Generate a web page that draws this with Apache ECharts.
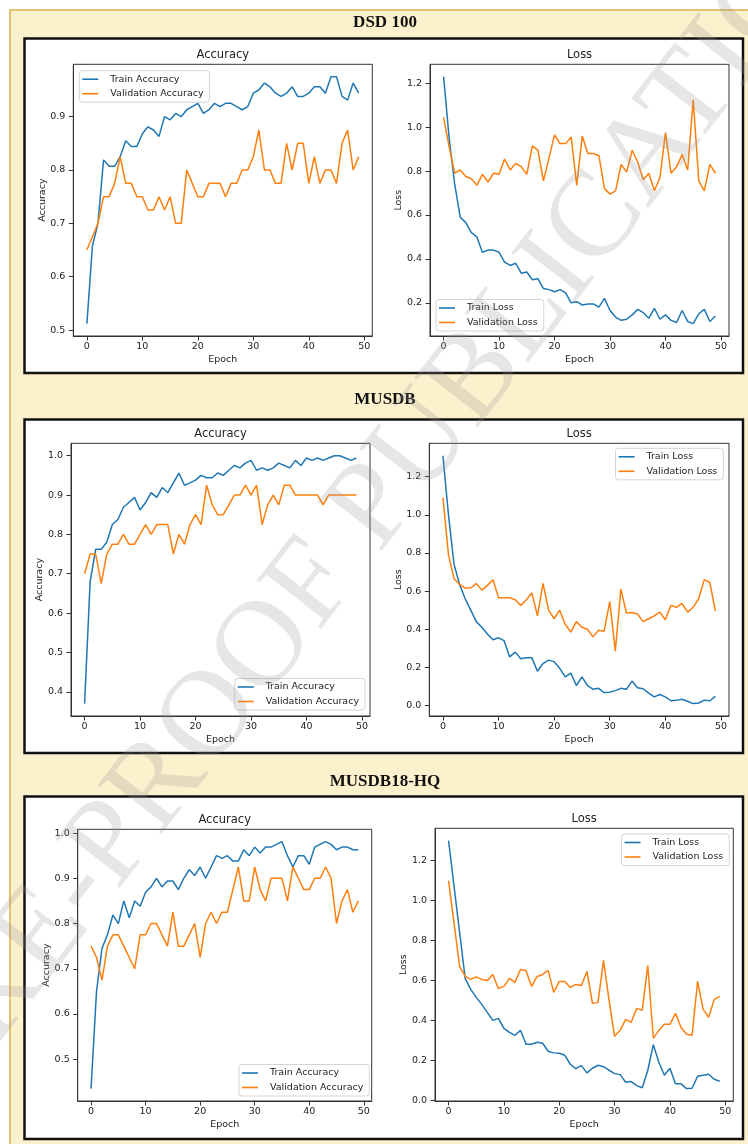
<!DOCTYPE html>
<html>
<head>
<meta charset="utf-8">
<script src="https://cdn.jsdelivr.net/npm/echarts@6/dist/echarts.min.js"></script>
<style>
  html, body { margin: 0; padding: 0; background: #ffffff; }
  #main { width: 748px; height: 1144px; }
</style>
</head>
<body>
<div id="main"></div>
<script>
// ---- training histories (50 epochs each) ----
const dsdTrainAcc = [0.512,0.658,0.700,0.819,0.807,0.807,0.825,0.855,0.844,0.844,
  0.868,0.881,0.875,0.863,0.900,0.894,0.906,0.900,0.913,0.919,
  0.925,0.906,0.913,0.925,0.919,0.925,0.925,0.919,0.913,0.919,
  0.944,0.950,0.963,0.956,0.944,0.938,0.944,0.956,0.938,0.938,
  0.944,0.956,0.956,0.944,0.975,0.975,0.938,0.931,0.963,0.944];
const dsdValAcc = [0.650,0.675,0.700,0.750,0.750,0.775,0.825,0.775,0.775,0.750,
  0.750,0.725,0.725,0.750,0.725,0.750,0.700,0.700,0.800,0.775,
  0.750,0.750,0.775,0.775,0.775,0.750,0.775,0.775,0.800,0.800,
  0.825,0.875,0.800,0.800,0.775,0.775,0.850,0.800,0.850,0.850,
  0.775,0.825,0.775,0.800,0.800,0.775,0.850,0.875,0.800,0.825];
const dsdTrainLoss = [1.23,0.95,0.74,0.59,0.565,0.52,0.50,0.43,0.44,0.44,
  0.43,0.385,0.37,0.38,0.335,0.34,0.305,0.31,0.265,0.26,
  0.25,0.26,0.245,0.20,0.205,0.19,0.195,0.195,0.18,0.22,
  0.165,0.135,0.12,0.125,0.145,0.17,0.155,0.13,0.175,0.125,
  0.145,0.12,0.11,0.165,0.115,0.105,0.15,0.17,0.115,0.14];
const dsdValLoss = [1.045,0.91,0.79,0.805,0.775,0.765,0.735,0.785,0.75,0.79,
  0.785,0.855,0.805,0.835,0.82,0.785,0.915,0.895,0.755,0.86,
  0.965,0.925,0.925,0.955,0.735,0.96,0.88,0.88,0.87,0.72,
  0.695,0.71,0.83,0.795,0.895,0.84,0.76,0.79,0.71,0.77,
  0.975,0.79,0.82,0.875,0.805,1.125,0.755,0.71,0.83,0.79];

const musTrainAcc = [0.37,0.68,0.762,0.762,0.78,0.825,0.838,0.869,0.881,0.894,
  0.862,0.881,0.906,0.894,0.919,0.906,0.931,0.956,0.925,0.931,
  0.938,0.950,0.944,0.944,0.956,0.950,0.963,0.975,0.969,0.981,
  0.988,0.963,0.969,0.963,0.969,0.981,0.975,0.969,0.988,0.975,
  0.994,0.988,0.994,0.988,0.994,1.0,1.0,0.994,0.988,0.994];
const musValAcc = [0.70,0.75,0.75,0.675,0.75,0.775,0.775,0.80,0.775,0.775,
  0.80,0.825,0.80,0.825,0.825,0.825,0.75,0.80,0.775,0.825,
  0.85,0.825,0.925,0.875,0.85,0.85,0.875,0.90,0.90,0.925,
  0.90,0.925,0.825,0.875,0.90,0.875,0.925,0.925,0.90,0.90,
  0.90,0.90,0.90,0.875,0.90,0.90,0.90,0.90,0.90,0.90];
const musTrainLoss = [1.31,1.0,0.74,0.635,0.56,0.50,0.44,0.41,0.375,0.345,
  0.355,0.34,0.255,0.28,0.245,0.25,0.25,0.18,0.22,0.238,
  0.23,0.195,0.15,0.17,0.105,0.15,0.105,0.085,0.09,0.068,
  0.07,0.078,0.09,0.085,0.128,0.093,0.088,0.065,0.045,0.058,
  0.045,0.025,0.027,0.033,0.022,0.01,0.013,0.028,0.025,0.048];
const musValLoss = [1.09,0.79,0.665,0.635,0.615,0.617,0.64,0.605,0.63,0.66,
  0.565,0.565,0.565,0.555,0.525,0.555,0.59,0.47,0.64,0.50,
  0.455,0.50,0.425,0.385,0.44,0.41,0.40,0.36,0.395,0.39,
  0.545,0.285,0.61,0.485,0.488,0.48,0.44,0.455,0.47,0.49,
  0.45,0.525,0.515,0.535,0.49,0.515,0.56,0.66,0.645,0.495];

const hqTrainAcc = [0.435,0.65,0.745,0.775,0.819,0.80,0.85,0.813,0.85,0.838,
  0.869,0.881,0.90,0.881,0.894,0.894,0.875,0.90,0.919,0.906,
  0.925,0.90,0.925,0.95,0.944,0.95,0.938,0.938,0.963,0.95,
  0.969,0.956,0.969,0.969,0.975,0.981,0.95,0.925,0.95,0.95,
  0.931,0.969,0.975,0.981,0.975,0.963,0.969,0.969,0.963,0.963];
const hqValAcc = [0.75,0.725,0.675,0.75,0.775,0.775,0.75,0.725,0.70,0.775,
  0.775,0.80,0.80,0.775,0.75,0.825,0.75,0.75,0.775,0.80,
  0.725,0.80,0.825,0.80,0.825,0.825,0.875,0.925,0.85,0.85,
  0.925,0.875,0.85,0.90,0.90,0.90,0.85,0.925,0.90,0.875,
  0.875,0.90,0.90,0.925,0.90,0.80,0.85,0.875,0.825,0.85];
const hqTrainLoss = [1.30,1.07,0.84,0.61,0.555,0.515,0.48,0.44,0.40,0.41,
  0.36,0.34,0.325,0.35,0.28,0.28,0.29,0.285,0.245,0.237,
  0.235,0.225,0.18,0.158,0.173,0.137,0.16,0.175,0.168,0.15,
  0.133,0.128,0.09,0.093,0.073,0.062,0.15,0.278,0.19,0.125,
  0.16,0.082,0.082,0.058,0.06,0.12,0.125,0.13,0.105,0.095];
const hqValLoss = [1.10,0.885,0.67,0.62,0.605,0.618,0.605,0.60,0.63,0.56,
  0.57,0.61,0.59,0.655,0.648,0.57,0.62,0.63,0.65,0.54,
  0.595,0.595,0.565,0.58,0.575,0.645,0.485,0.49,0.70,0.50,
  0.32,0.35,0.405,0.39,0.46,0.45,0.675,0.31,0.35,0.38,
  0.38,0.435,0.365,0.33,0.325,0.595,0.455,0.415,0.505,0.52];

// ---- labels and ticks ----
const sectionTitles = ['DSD 100', 'MUSDB', 'MUSDB18-HQ'];
const accNames = ['Train Accuracy', 'Validation Accuracy'];
const lossNames = ['Train Loss', 'Validation Loss'];
const epochTicks = [0, 10, 20, 30, 40, 50];
const dsdAccTicks = [0.5, 0.6, 0.7, 0.8, 0.9];
const musAccTicks = [0.4, 0.5, 0.6, 0.7, 0.8, 0.9, 1.0];
const hqAccTicks = [0.5, 0.6, 0.7, 0.8, 0.9, 1.0];
const dsdLossTicks = [0.2, 0.4, 0.6, 0.8, 1.0, 1.2];
const lossTicks = [0.0, 0.2, 0.4, 0.6, 0.8, 1.0, 1.2];

const BLUE = '#1f77b4';
const ORANGE = '#ff7f0e';
const FONT = '"DejaVu Sans", sans-serif';

// panel layout: plot rectangle in page pixels, and legend anchor
const panels = [
  { rect: [73.3, 64.3, 299, 271.7], title: 'Accuracy', yName: 'Accuracy', names: accNames,
    train: dsdTrainAcc, val: dsdValAcc, yTicks: dsdAccTicks, legend: { left: 79.3, top: 70.7 } },
  { rect: [430, 64.3, 299, 271.7], title: 'Loss', yName: 'Loss', names: lossNames,
    train: dsdTrainLoss, val: dsdValLoss, yTicks: dsdLossTicks, legend: { left: 436, bottom: 813 } },
  { rect: [71, 443.3, 299, 272.7], title: 'Accuracy', yName: 'Accuracy', names: accNames,
    train: musTrainAcc, val: musValAcc, yTicks: musAccTicks, legend: { right: 383, bottom: 434 } },
  { rect: [429.3, 443.3, 299.7, 272.7], title: 'Loss', yName: 'Loss', names: lossNames,
    train: musTrainLoss, val: musValLoss, yTicks: lossTicks, legend: { right: 24.7, top: 448.3 } },
  { rect: [77.7, 829.3, 294, 271.7], title: 'Accuracy', yName: 'Accuracy', names: accNames,
    train: hqTrainAcc, val: hqValAcc, yTicks: hqAccTicks, legend: { right: 378.7, bottom: 48 } },
  { rect: [435, 828.3, 298.3, 272.7], title: 'Loss', yName: 'Loss', names: lossNames,
    train: hqTrainLoss, val: hqValLoss, yTicks: lossTicks, legend: { right: 18.7, top: 834 } }
];

// matplotlib-style autoscale: 5% margin around the data
function autoRange(a, b) {
  const all = a.concat(b);
  const lo = Math.min.apply(null, all), hi = Math.max.apply(null, all);
  const pad = (hi - lo) * 0.05;
  return [lo - pad, hi + pad];
}
const toPairs = arr => arr.map((v, i) => [i, v]);

const grids = [], xAxes = [], yAxes = [], series = [], legends = [], titles = [];

panels.forEach((p, i) => {
  const [l, t, w, h] = p.rect;
  grids.push({ left: l, top: t, width: w, height: h, show: true, borderColor: '#333',
    borderWidth: 1, backgroundColor: 'transparent', containLabel: false, outerBoundsMode: 'none' });

  const axisCommon = {
    gridIndex: i,
    type: 'value',
    nameLocation: 'middle',
    nameMoveOverlap: false,
    nameTextStyle: { fontFamily: FONT, fontSize: 9.5, color: '#222' },
    axisLine: { show: true, onZero: false, lineStyle: { color: '#333', width: 1 } },
    splitLine: { show: false }
  };

  xAxes.push(Object.assign({}, axisCommon, {
    min: -2.45, max: 51.45,
    name: 'Epoch', nameGap: 19,
    axisTick: { show: true, length: 4.5, lineStyle: { color: '#333' }, customValues: epochTicks },
    axisLabel: { margin: 6, fontFamily: FONT, fontSize: 9.5, color: '#222', customValues: epochTicks,
      formatter: v => String(v) }
  }));

  const [ymin, ymax] = autoRange(p.train, p.val);
  yAxes.push(Object.assign({}, axisCommon, {
    min: ymin, max: ymax,
    name: p.yName, nameGap: 26,
    axisTick: { show: true, length: 4.5, lineStyle: { color: '#333' }, customValues: p.yTicks },
    axisLabel: { margin: 8, fontFamily: FONT, fontSize: 9.5, color: '#222', customValues: p.yTicks,
      formatter: v => v.toFixed(1) }
  }));

  [[p.names[0], p.train, BLUE], [p.names[1], p.val, ORANGE]].forEach(([name, arr, color]) => {
    series.push({
      type: 'line', name: name, xAxisIndex: i, yAxisIndex: i,
      data: toPairs(arr), showSymbol: false, symbol: 'none',
      color: color, lineStyle: { color: color, width: 1.5 },
      animation: false, z: 3
    });
  });

  legends.push(Object.assign({
    orient: 'vertical', data: p.names, icon: 'rect', itemWidth: 16, itemHeight: 1.6,
    itemGap: 3.5, padding: [3, 6, 3, 3], backgroundColor: '#fff', borderColor: '#d4d4d4',
    borderWidth: 1, borderRadius: 3, selectedMode: false,
    textStyle: { fontFamily: FONT, fontSize: 9.5, color: '#222', lineHeight: 11, padding: [0, 0, 0, 7] }
  }, p.legend));

  titles.push({
    text: p.title, left: l + w / 2, top: t - 15, textAlign: 'center', padding: 0,
    textStyle: { fontFamily: FONT, fontSize: 11.5, fontWeight: 'normal', color: '#222' }
  });
});

// page frame, section boxes and headings
const boxes = [[24.5, 38.5, 718.5, 334.5], [24.5, 419.5, 718.5, 333.5], [24.5, 796.5, 718.5, 342.5]];
const headingY = [23, 400, 782];
const graphics = [
  { type: 'rect', z: -20, silent: true, shape: { x: 0, y: 0, width: 748, height: 1144 }, style: { fill: '#ffffff' } },
  { type: 'rect', z: -19, silent: true, shape: { x: 10, y: 10, width: 740, height: 1140 },
    style: { fill: '#fdf0cc', stroke: '#e4c36e', lineWidth: 2 } }
];
boxes.forEach(([x, y, w, h]) => {
  graphics.push({ type: 'rect', z: -18, silent: true, shape: { x, y, width: w, height: h },
    style: { fill: '#ffffff', stroke: '#111', lineWidth: 2.5 } });
});
sectionTitles.forEach((s, i) => {
  graphics.push({ type: 'text', z: 5, silent: true, x: 385, y: headingY[i],
    style: { text: s, align: 'center', verticalAlign: 'middle', fill: '#111',
      font: 'bold 17px "Liberation Serif", "DejaVu Serif", serif' } });
});
// diagonal watermark
graphics.push({ type: 'text', z: 50, silent: true, x: 388, y: 490, rotation: 0.91,
  style: { text: 'PRE-PROOF PUBLICATION', align: 'center', verticalAlign: 'middle',
    fill: 'rgba(150,150,150,0.24)', font: '123px "Liberation Serif", serif' } });

const chart = echarts.init(document.getElementById('main'), null, { renderer: 'canvas' });
chart.setOption({
  animation: false,
  title: titles,
  grid: grids,
  xAxis: xAxes,
  yAxis: yAxes,
  legend: legends,
  series: series,
  graphic: { elements: graphics }
});
</script>
</body>
</html>
